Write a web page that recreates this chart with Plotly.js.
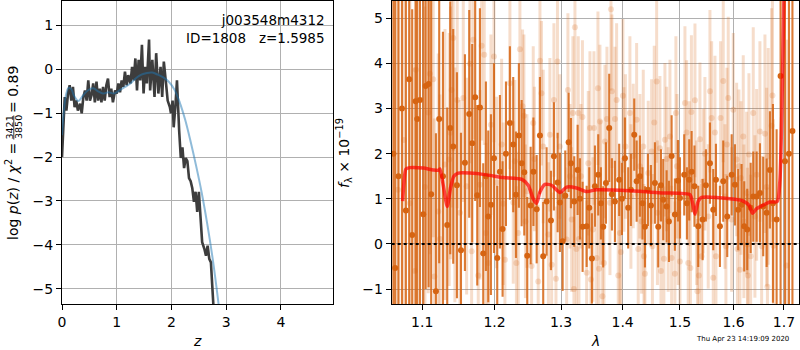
<!DOCTYPE html>
<html>
<head>
<meta charset="utf-8">
<script src="https://cdn.plot.ly/plotly-3.0.1.min.js"></script>
<style>html,body{margin:0;padding:0;background:#fff}#chart{width:800px;height:350px}</style>
</head>
<body>
<div id="chart"></div>
<script>
// ---- left panel: log p(z) ----
const zGrid = [0,0.02,0.05,0.08,0.11,0.14,0.17,0.20,0.23,0.26,0.29,0.33,0.36,0.39,0.42,0.45,0.48,0.51,0.54,0.57,0.60,0.63,0.66,0.69,0.72,0.75,0.78,0.81,0.84,0.87,0.90,0.93,0.97,1.00,1.03,1.06,1.09,1.12,1.15,1.18,1.21,1.25,1.28,1.31,1.34,1.37,1.40,1.43,1.46,1.49,1.52,1.55,1.59,1.61,1.65,1.69,1.72,1.76,1.80,1.83,1.86,1.90,1.93,1.97,1.99,2.02,2.04,2.07,2.10,2.14,2.17,2.20,2.23,2.26,2.29,2.32,2.35,2.38,2.41,2.44,2.47,2.50,2.53,2.56,2.60,2.63,2.66,2.69,2.72,2.75,2.78];
const logPz = [-2.0,-1.48,-0.63,-0.94,-0.55,-0.36,-0.71,-0.40,-0.86,-0.71,-0.94,-0.78,-1.0,-0.63,-0.48,-0.71,-0.25,-0.71,-0.59,-0.32,-0.75,-0.28,-0.71,-0.44,-0.75,-0.40,-0.71,-0.36,-0.21,-0.63,-0.44,-0.75,-0.48,-0.55,-0.32,-0.52,-0.25,-0.40,-0.05,-0.36,-0.13,-0.32,0.06,-0.25,0.25,-0.48,0.22,-0.25,0.56,-0.55,0.06,-0.32,0.68,-0.48,0.22,-0.63,0.37,-0.55,0.06,-0.63,0.18,-0.32,-0.71,-0.86,-1.0,-0.71,-1.32,-0.86,-0.25,-1.4,-2.02,-1.78,-2.25,-2.02,-2.09,-2.48,-2.55,-2.71,-3.02,-2.79,-3.25,-2.79,-3.4,-3.94,-4.09,-4.25,-4.02,-4.32,-4.4,-5.09,-5.7];
const zSmooth = [0.0,0.03,0.07,0.12,0.17,0.22,0.30,0.38,0.47,0.57,0.66,0.75,0.85,0.95,1.05,1.15,1.25,1.35,1.45,1.55,1.65,1.75,1.85,1.95,2.05,2.15,2.25,2.35,2.45,2.55,2.65,2.75,2.85,2.90];
const logPzSmooth = [-1.5,-1.0,-0.6,-0.42,-0.45,-0.6,-0.72,-0.6,-0.48,-0.43,-0.5,-0.55,-0.52,-0.55,-0.48,-0.4,-0.32,-0.2,-0.12,-0.08,-0.07,-0.12,-0.18,-0.28,-0.45,-0.75,-1.15,-1.65,-2.2,-2.8,-3.5,-4.3,-5.25,-5.8];
const zTicks = [0,1,2,3,4];

// ---- right panel: spectrum ----
const waveDark = [
 1.0625,1.0648,1.0690,1.0735,1.0786,1.0829,1.0868,1.0913,1.0934,1.0970,1.1014,1.1045,1.1085,1.1119,
 1.1183,1.1227,1.1278,
 1.1336,1.1377,1.1418,1.1469,1.1525,1.1580,
 1.1640,1.1682,1.1724,1.1753,1.1791,1.1838,1.1876,1.1910,1.1948,1.1992,
 1.2039,1.2078,1.2117,1.2166,1.2224,1.2273,1.2313,1.2357,1.2398,1.2437,1.2482,
 1.2533,1.2575,1.2624,1.2674,1.2724,1.2776,1.2843,1.2889,1.2947,1.2982,
 1.3025,1.3066,1.3119,1.3156,1.3208,1.3262,1.3299,1.3342,1.3407,1.3449,1.3492,1.3541,
 1.3595,1.3639,1.3677,1.3722,1.3776,1.3821,1.3871,1.3942,1.3988,1.4039,1.4094,1.4140,1.4197,1.4238,1.4294,1.4338,1.4381,1.4433,1.4485,1.4555,1.4613,1.4661,1.4701,1.4761,1.4802,1.4850,1.4909,1.4964,1.5000,
 1.5077,1.5126,1.5168,1.5212,1.5264,1.5334,1.5415,1.5476,1.5551,1.5613,1.5664,1.5739,1.5802,1.5878,1.5963,1.6026,1.6089,1.6155,1.6206,1.6265,1.6332,1.6383,1.6450,1.6515,1.6581,1.6649,
 1.6715,1.6776,1.6850,
 1.6931,1.7020,1.7102,1.7174];
const fluxDark = [
 2.0,-0.53,1.5,3.0,0.74,3.65,0.2,3.16,2.77,3.19,0.66,3.5,3.54,1.1,
 -1.05,2.77,1.5,
 0.42,2.57,2.16,1.3,-0.14,1.8,
 2.88,2.23,3.25,1.08,3.02,-0.21,1.5,0.61,0.87,1.9,
 -0.31,1.6,0.33,2.0,2.68,2.2,1.09,2.4,1.79,1.59,-0.26,
 0.85,1.6,0.77,2.4,-0.27,0.94,0.52,1.94,1.36,0.92,
 0.06,1.07,2.25,1.79,0.94,1.64,1.0,0.38,0.39,0.8,-0.32,1.28,
 1.53,0.9,0.38,1.35,2.57,1.1,0.94,1.42,1.0,1.9,0.8,1.2,2.42,1.39,1.5,0.9,0.38,1.2,0.85,1.35,0.38,1.3,0.98,0.83,0.5,1.95,0.65,1.4,1.02,
 1.53,0.9,1.42,1.6,1.28,0.39,0.54,1.3,1.79,0.76,1.42,0.39,1.39,0.61,1.53,1.31,0.76,0.87,0.39,0.32,0.8,1.05,1.05,1.13,0.83,0.69,
 1.64,0.9,0.54,
 3.72,1.83,2.0,2.5];
const errDark = [
 6,6,6,6,5,5,5,5,5,5,5,4.5,4.5,4.5,
 3.5,3.2,3.2,
 2.6,2.8,2.6,2.5,2.6,2.4,
 2.3,2.2,2.3,2.0,2.2,2.0,2.1,1.9,2.0,2.1,
 1.6,1.7,1.5,1.6,1.7,1.5,1.4,1.6,1.4,1.4,1.3,
 1.3,1.2,1.2,1.3,1.2,1.2,1.1,1.2,1.1,1.1,
 1.1,1.0,1.1,1.0,1.0,1.0,0.9,1.0,0.9,0.9,1.0,0.9,
 0.9,0.8,0.9,0.9,1.2,0.8,0.9,0.8,0.8,0.9,0.9,0.8,0.8,0.9,0.9,0.8,0.9,0.8,0.9,0.9,0.9,0.8,0.9,0.8,0.9,0.9,0.8,0.9,0.9,
 0.9,0.8,0.9,0.9,0.9,0.9,0.9,0.8,0.9,0.9,0.8,0.9,0.9,0.9,0.9,0.9,0.9,0.9,1.0,0.9,1.0,1.0,1.0,1.1,1.1,1.2,
 1.3,2.2,2.0,
 6,8,8,8];

const waveLight = [
 1.0683,1.0760,1.0838,1.0904,1.0917,1.1036,1.1080,1.1102,1.1146,1.1162,1.1214,1.1237,1.1305,
 1.1363,1.1380,1.1396,1.1418,1.1441,1.1473,1.1511,1.1557,1.1604,1.1650,1.1674,1.1696,1.1767,1.1791,1.1815,1.1852,1.1876,1.1910,1.1948,1.1992,
 1.2030,1.2103,1.2127,1.2151,1.2224,1.2273,1.2298,1.2320,1.2347,1.2372,1.2412,1.2432,1.2455,1.2477,1.2548,1.2572,1.2590,1.2648,1.2674,1.2697,1.2724,1.2804,1.2827,1.2854,1.2889,1.2921,1.2944,1.2982,1.3088,1.3108,1.3140,1.3167,1.3187,1.3203,1.3219,1.3243,1.3272,1.3283,1.3315,1.3339,1.3407,1.3433,1.3460,1.3476,1.3509,1.3525,1.3569,1.3590,1.3607,1.3623,
 1.3639,1.3664,1.3689,1.3705,1.3738,1.3788,1.3805,1.3821,1.3871,1.3899,1.3926,1.3954,1.3971,1.4005,1.4022,1.4047,1.4123,1.4140,1.4180,1.4238,1.4265,1.4294,1.4324,1.4352,1.4364,1.4381,1.4438,1.4497,1.4511,1.4543,1.4585,1.4599,1.4643,1.4661,1.4713,1.4731,1.4761,1.4789,1.4820,1.4850,1.4909,1.4927,1.4946,1.4969,1.5000,1.5090,1.5121,1.5150,1.5168,1.5190,1.5208,1.5273,1.5304,1.5319,1.5346,1.5365,
 1.5396,1.5426,1.5457,1.5519,1.5551,1.5583,1.5613,1.5645,1.5664,1.5752,1.5802,1.5834,1.5853,1.5872,1.5897,1.5963,1.5994,1.6059,1.6074,1.6103,1.6122,1.6142,1.6187,1.6200,1.6253,1.6269,1.6279,1.6298,1.6332,1.6383,1.6416,1.6450,1.6515,1.6549,1.6615,1.6649,1.6665,1.6681,1.6749,1.6766,1.6786,1.7055];
const fluxLight = [
 1.2,2.3,0.9,-0.6,3.86,1.26,2.91,3.77,3.65,-0.72,0.72,0.11,1.76,
 1.87,2.46,3.41,4.56,1.31,3.19,0.69,3.23,1.28,3.99,-0.16,4.52,-0.7,1.31,4.39,4.19,0.24,-0.42,2.64,4.15,
 1.36,2.2,0.89,-0.35,3.56,0.92,1.83,-0.42,0.24,4.31,3.05,2.84,0.5,1.17,-0.49,2.68,1.88,-0.83,4.06,3.34,2.16,0.21,2.42,-0.46,3.19,-0.77,4.04,2.16,0.1,3.41,1.5,0.54,2.9,-1.0,4.8,-0.11,2.9,0.11,1.5,2.81,-0.64,1.79,2.57,-0.79,0.32,2.57,-0.31,3.45,-0.55,2.71,
 1.14,-1.16,-0.42,2.27,2.77,0.91,5.2,3.38,2.77,3.19,-0.7,0.24,-0.18,3.28,1.87,2.16,2.9,1.05,1.95,2.75,-0.11,1.72,0.5,2.16,-0.27,-0.66,1.57,2.05,-0.05,2.69,3.6,0.69,2.12,-0.6,-0.33,2.31,1.88,0.54,2.38,-0.31,-0.66,2.9,1.72,0.69,-0.39,3.12,2.47,-0.42,1.56,-0.53,2.92,3.18,0.69,-1.05,-0.7,2.32,
 -0.27,1.39,2.0,0.61,3.38,2.79,-0.75,2.47,-0.27,2.79,3.61,1.05,-0.05,2.2,3.23,0.54,2.97,1.87,-0.11,1.72,-0.57,1.46,2.38,0.5,1.13,-0.01,-0.7,1.98,-0.27,2.9,0.61,1.53,2.49,-0.05,2.44,1.26,-0.95,1.94,2.62,3.29,-0.04,-0.48];
const errLight = [
 5,5,5,4.5,4.5,4,4,4,3.5,3.5,3.5,3.2,3,
 2.8,2.8,2.6,2.5,2.6,2.4,2.5,2.3,2.4,2.2,2.3,2.2,2.2,2.1,2.1,2.0,2.0,2.0,2.0,1.9,
 1.9,1.9,1.8,1.8,1.9,1.8,1.8,1.7,1.8,1.8,1.7,1.8,1.7,1.7,1.7,1.7,1.6,1.7,1.7,1.6,1.7,1.6,1.7,1.6,1.7,1.6,1.7,1.6,1.6,1.7,1.6,1.6,1.7,1.6,1.8,1.6,1.7,1.6,1.6,1.7,1.6,1.6,1.7,1.6,1.6,1.7,1.6,1.7,1.6,1.7,
 1.6,1.6,1.6,1.7,1.6,1.6,1.8,1.7,1.6,1.7,1.6,1.6,1.6,1.7,1.6,1.6,1.7,1.6,1.6,1.7,1.6,1.6,1.6,1.7,1.6,1.6,1.6,1.6,1.6,1.7,1.8,1.6,1.6,1.6,1.6,1.7,1.6,1.6,1.7,1.6,1.6,1.7,1.6,1.6,1.6,1.7,1.6,1.6,1.6,1.6,1.7,1.7,1.6,1.6,1.6,1.7,
 1.6,1.6,1.7,1.6,1.8,1.7,1.6,1.7,1.6,1.7,1.8,1.6,1.6,1.7,1.8,1.6,1.7,1.7,1.6,1.7,1.6,1.7,1.8,1.7,1.8,1.7,1.8,1.8,1.8,1.9,1.8,1.9,2.0,2.0,2.2,2.2,2.2,2.4,2.6,2.8,2.8,5];

const waveModel = [1.0744,1.0760,1.0786,1.0838,1.1014,1.1146,1.1214,1.1237,1.1282,1.1336,1.1382,1.1427,1.1487,1.1650,1.1886,1.2127,1.2402,1.2497,1.2572,1.2624,1.2674,1.2750,1.2853,1.2982,1.3088,1.3246,1.3407,1.3569,1.4123,1.4701,1.5181,1.5230,1.5273,1.5334,1.5396,1.5930,1.6187,1.6304,1.6371,1.6450,1.6581,1.6715,1.6863,1.6917,1.6958,1.6999,1.7020];
const fluxModel = [0.95,1.35,1.66,1.69,1.68,1.64,1.63,1.66,1.3,0.83,1.25,1.5,1.57,1.57,1.53,1.47,1.43,1.3,1.0,0.9,1.15,1.32,1.3,1.14,1.26,1.24,1.16,1.2,1.18,1.13,1.09,0.9,0.66,0.95,1.03,1.0,0.95,0.85,0.68,0.78,0.86,0.93,0.94,1.4,3.0,5.5,7.0];
const lambdaTicks = [1.1,1.2,1.3,1.4,1.5,1.6,1.7];
const lambdaTickText = ['1.1','1.2','1.3','1.4','1.5','1.6','1.7'];

const FONT = 'DejaVu Sans, sans-serif';
const ORANGE = 'rgb(214,100,18)';
const ORANGE_LIGHT = 'rgba(214,100,18,0.22)';

const traces = [
  {x: zGrid, y: logPz, xaxis: 'x', yaxis: 'y', mode: 'lines', line: {color: '#3d3d3d', width: 2.6}, hoverinfo: 'skip'},
  {x: zSmooth, y: logPzSmooth, xaxis: 'x', yaxis: 'y', mode: 'lines', line: {color: 'rgba(31,119,180,0.5)', width: 2, shape: 'spline'}, hoverinfo: 'skip'},
  {x: waveLight, y: fluxLight, xaxis: 'x2', yaxis: 'y2', mode: 'markers',
   marker: {size: 6, color: 'rgba(214,100,18,0.2)'},
   error_y: {type: 'data', array: errLight, visible: true, thickness: 3, width: 0, color: ORANGE_LIGHT}, hoverinfo: 'skip'},
  {x: waveDark, y: fluxDark, xaxis: 'x2', yaxis: 'y2', mode: 'markers',
   marker: {size: 6, color: ORANGE},
   error_y: {type: 'data', array: errDark, visible: true, thickness: 2.1, width: 0, color: 'rgba(214,100,18,0.85)'}, hoverinfo: 'skip'},
  {x: waveModel, y: fluxModel, xaxis: 'x2', yaxis: 'y2', mode: 'lines', line: {color: 'rgba(255,0,0,0.7)', width: 3.5, shape: 'spline', smoothing: 0.6}, hoverinfo: 'skip'}
];

const axisBase = {
  showline: true, linecolor: 'black', linewidth: 1, mirror: true,
  ticks: 'outside', ticklen: 5, tickwidth: 1, tickcolor: 'black',
  showgrid: true, gridcolor: '#b0b0b0', gridwidth: 1, zeroline: false,
  tickfont: {family: FONT, size: 14, color: 'black'}
};

const px = v => v / 800, py = v => (350 - v) / 350;

const layout = {
  width: 800, height: 350,
  margin: {l: 0, r: 0, t: 0, b: 0},
  paper_bgcolor: 'white', plot_bgcolor: 'white',
  showlegend: false,
  font: {family: FONT, color: 'black'},
  xaxis: Object.assign({}, axisBase, {domain: [0.0775, 0.41625], range: [0, 4.95], tickvals: zTicks, anchor: 'y'}),
  yaxis: Object.assign({}, axisBase, {domain: [0.1314, 0.9971], range: [-5.35, 1.56], dtick: 1, tick0: 0, anchor: 'x'}),
  xaxis2: Object.assign({}, axisBase, {domain: [0.4896, 0.9991], type: 'log', range: [0.02543, 0.23845], tickvals: lambdaTicks, ticktext: lambdaTickText, anchor: 'y2'}),
  yaxis2: Object.assign({}, axisBase, {domain: [0.1314, 0.9971], range: [-1.33, 5.38], dtick: 1, tick0: 0, anchor: 'x2'}),
  shapes: [
    {type: 'line', xref: 'x2 domain', yref: 'y2', x0: 0, x1: 1, y0: 0, y1: 0, line: {color: 'black', width: 2, dash: 'dot'}},
    {type: 'line', xref: 'paper', yref: 'paper', x0: px(13.8), x1: px(13.8), y0: py(115.5), y1: py(139.5), line: {color: 'black', width: 0.8}}
  ],
  annotations: [
    {xref: 'paper', yref: 'paper', x: px(327), y: py(10), xanchor: 'right', yanchor: 'top', align: 'right', showarrow: false,
     text: 'j003548m4312<br>ID=1808&nbsp;&nbsp;&nbsp;z=1.5985', font: {family: FONT, size: 13.5}},
    {xref: 'paper', yref: 'paper', x: px(12.5), y: py(141), xanchor: 'center', yanchor: 'top', textangle: -90, showarrow: false,
     text: 'log <i>p</i>(<i>z</i>) / <i>χ</i><sup>2</sup> =', font: {family: FONT, size: 14}},
    {xref: 'paper', yref: 'paper', x: px(9), y: py(127.5), xanchor: 'center', yanchor: 'middle', textangle: -90, showarrow: false, text: '3421', font: {family: FONT, size: 9.5}},
    {xref: 'paper', yref: 'paper', x: px(18.5), y: py(127.5), xanchor: 'center', yanchor: 'middle', textangle: -90, showarrow: false, text: '3850', font: {family: FONT, size: 9.5}},
    {xref: 'paper', yref: 'paper', x: px(12.5), y: py(64), xanchor: 'center', yanchor: 'top', textangle: -90, showarrow: false, text: '= 0.89', font: {family: FONT, size: 14}},
    {xref: 'paper', yref: 'paper', x: px(344), y: py(153), xanchor: 'center', yanchor: 'middle', textangle: -90, showarrow: false,
     text: '<i>f</i><sub>λ</sub> × 10<sup>−19</sup>', font: {family: FONT, size: 14}},
    {xref: 'paper', yref: 'paper', x: px(197), y: py(341), xanchor: 'center', yanchor: 'middle', showarrow: false, text: '<i>z</i>', font: {family: FONT, size: 14}},
    {xref: 'paper', yref: 'paper', x: px(595), y: py(341), xanchor: 'center', yanchor: 'middle', showarrow: false, text: '<i>λ</i>', font: {family: FONT, size: 14}},
    {xref: 'paper', yref: 'paper', x: px(742), y: py(339), xanchor: 'center', yanchor: 'middle', showarrow: false, text: 'Thu Apr 23 14:19:09 2020', font: {family: FONT, size: 7}}
  ]
};

Plotly.newPlot('chart', traces, layout, {staticPlot: true, displayModeBar: false});
</script>
</body>
</html>
